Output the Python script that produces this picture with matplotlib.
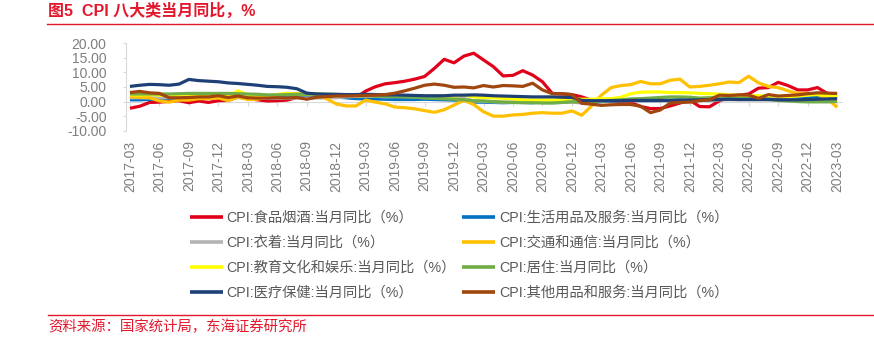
import matplotlib
matplotlib.use("Agg")
import matplotlib.pyplot as plt
import pandas as pd

plt.rcParams['font.family'] = ['Liberation Sans', 'Noto Sans CJK SC', 'DejaVu Sans']
plt.rcParams['axes.unicode_minus'] = False

# monthly YoY, 2017-03 .. 2023-03
months = pd.date_range('2017-03-01', periods=73, freq='MS').strftime('%Y-%m').tolist()

food = [-2.3, -1.6, -0.3, -0.2, 0.1, 0.3, -0.4, 0.2, -0.3, 0.3,
        0.4, 1.6, 1.0, 0.6, 0.2, 0.3, 0.5, 1.4, 2.4, 2.5, 1.9, 1.6,
        1.4, 1.3, 3.6, 5.1, 6.1, 6.5, 7.0, 7.7, 8.6, 11.4, 14.5, 13.3,
        15.6, 16.6, 14.3, 12.0, 8.8, 9.0, 10.6, 9.1, 6.8, 2.8, 2.6, 2.4,
        1.6, 0.5, 0.1, 0.2, 0.0, -0.3, -1.7, -2.4, -2.4, -1.5, -0.5, 0.5,
        -1.7, -1.8, 0.2, 1.5, 2.2, 2.6, 4.6, 4.8, 6.6, 5.5, 4.0, 4.0,
        4.8, 2.8, 2.5]
household = [0.6, 0.6, 0.7, 0.9, 1.1, 1.2, 1.2, 1.4, 1.5, 1.5,
             1.5, 1.5, 1.5, 1.5, 1.5, 1.5, 1.5, 1.6, 1.6, 1.5, 1.5, 1.5,
             1.3, 1.0, 0.9, 0.9, 0.8, 0.7, 0.7, 0.7, 0.8, 0.7, 0.6, 0.5,
             0.5, -0.2, -0.2, -0.3, -0.4, -0.3, -0.3, -0.4, -0.1, 0.0, 0.0, 0.1,
             -0.1, -0.3, 0.0, 0.2, 0.3, 0.4, 0.3, 0.3, 0.3, 0.4, 0.5, 0.5,
             1.0, 1.1, 1.0, 1.0, 1.2, 1.1, 1.1, 1.1, 1.2, 1.2, 1.2, 1.2,
             1.6, 1.6, 1.0]
clothing = [1.3, 1.3, 1.3, 1.3, 1.3, 1.3, 1.3, 1.3, 1.3, 1.3,
            1.1, 1.3, 1.1, 1.1, 1.1, 1.1, 1.1, 1.2, 1.2, 1.2, 1.3, 1.3,
            1.6, 1.8, 1.8, 1.8, 1.6, 1.7, 1.7, 1.6, 1.4, 1.4, 1.3, 1.1,
            1.1, 0.2, 0.1, -0.1, -0.2, -0.2, -0.3, -0.3, -0.3, -0.4, -0.3, -0.2,
            -0.5, -0.3, 0.1, 0.3, 0.3, 0.3, 0.3, 0.3, 0.2, 0.2, 0.3, 0.3,
            0.5, 0.3, 0.6, 0.6, 0.6, 0.6, 0.6, 0.6, 0.6, 0.6, 0.5, 0.5,
            0.7, 0.8, 0.9]
transport = [1.6, 1.5, 1.3, 0.2, -0.2, 0.5, 0.5, 1.0, 1.0, 1.3,
             0.3, 1.6, 0.7, 0.8, 1.6, 2.2, 2.8, 2.7, 2.6, 2.5, 1.0, -0.8,
             -1.5, -1.5, 0.5, -0.2, -0.8, -1.9, -2.1, -2.5, -3.1, -3.7, -2.8, -1.2,
             0.4, -1.0, -3.5, -5.0, -5.0, -4.6, -4.4, -4.0, -3.8, -4.0, -4.0, -3.2,
             -4.7, -1.5, 2.2, 4.8, 5.5, 5.8, 6.9, 6.1, 6.1, 7.3, 7.7, 5.0,
             5.2, 5.6, 6.1, 6.7, 6.5, 8.7, 6.4, 5.2, 4.8, 3.7, 2.8, 2.8,
             2.5, 1.1, -2.0]
education = [2.3, 2.3, 2.4, 2.2, 2.1, 2.1, 2.2, 2.1, 2.0, 2.0,
             1.8, 3.7, 2.2, 2.0, 1.9, 2.5, 2.7, 2.6, 2.5, 2.6, 2.2, 2.0,
             2.3, 2.0, 2.1, 2.2, 2.0, 1.9, 2.0, 2.0, 1.9, 1.9, 1.8, 1.9,
             2.2, 1.6, 1.4, 1.3, 1.1, 0.9, 0.6, 0.5, 0.5, 0.5, 0.7, 0.9,
             0.8, 0.8, 1.0, 1.0, 1.5, 2.7, 3.2, 3.3, 3.3, 3.1, 3.1, 3.0,
             2.8, 2.7, 2.6, 2.3, 2.2, 2.0, 2.0, 1.9, 1.8, 1.7, 1.9, 2.2,
             2.4, 2.0, 1.7]
housing = [2.6, 2.6, 2.6, 2.6, 2.6, 2.7, 2.8, 2.8, 2.8, 2.8,
           2.8, 2.7, 2.6, 2.5, 2.3, 2.3, 2.4, 2.5, 2.5, 2.6, 2.6, 2.4,
           2.2, 2.1, 2.0, 1.9, 1.8, 1.7, 1.6, 1.5, 1.2, 1.1, 0.9, 0.8,
           0.6, 0.3, 0.2, 0.0, -0.2, -0.3, -0.4, -0.4, -0.5, -0.5, -0.3, -0.1,
           -0.2, -0.2, 0.2, 0.4, 0.6, 0.9, 1.0, 1.2, 1.4, 1.6, 1.6, 1.5,
           1.2, 1.3, 1.2, 1.2, 1.2, 1.1, 0.9, 0.8, 0.4, 0.2, 0.0, -0.1,
           -0.1, -0.1, 0.0]
medical = [5.2, 5.6, 5.9, 5.8, 5.6, 6.0, 7.6, 7.2, 7.0, 6.8,
           6.4, 6.2, 5.9, 5.6, 5.2, 5.1, 4.9, 4.4, 2.9, 2.6, 2.5, 2.5,
           2.4, 2.4, 2.5, 2.4, 2.3, 2.3, 2.2, 2.1, 2.0, 2.0, 2.0, 2.2,
           2.2, 2.3, 2.2, 2.0, 1.9, 1.8, 1.7, 1.6, 1.6, 1.6, 1.5, 1.4,
           0.4, 0.3, 0.3, 0.3, 0.3, 0.4, 0.4, 0.4, 0.4, 0.4, 0.5, 0.5,
           0.6, 0.6, 0.7, 0.8, 0.7, 0.7, 0.7, 0.7, 0.6, 0.6, 0.6, 0.7,
           0.8, 0.9, 1.0]
other = [3.1, 3.5, 3.0, 2.8, 1.3, 1.3, 1.4, 1.6, 1.6, 2.0,
         1.4, 1.9, 1.3, 1.2, 1.2, 1.3, 1.2, 1.4, 0.8, 1.5, 1.7, 1.9,
         1.9, 2.0, 2.1, 2.2, 2.4, 2.9, 3.7, 4.6, 5.6, 6.0, 5.6, 4.9,
         5.0, 4.7, 5.5, 5.0, 5.5, 5.4, 5.2, 6.3, 4.0, 2.7, 2.7, 2.4,
         -0.6, -0.9, -1.3, -1.1, -1.0, -1.0, -1.6, -3.8, -2.9, -0.5, -0.3, -0.2,
         0.3, 0.6, 2.2, 2.1, 2.3, 2.2, 1.1, 2.4, 1.9, 2.1, 2.3, 2.7,
         3.0, 2.9, 2.8]

series = [
    ('CPI:食品烟酒:当月同比（%）', food, '#E0001B'),
    ('CPI:生活用品及服务:当月同比（%）', household, '#0070C0'),
    ('CPI:衣着:当月同比（%）', clothing, '#B4B4B4'),
    ('CPI:交通和通信:当月同比（%）', transport, '#FFC000'),
    ('CPI:教育文化和娱乐:当月同比（%）', education, '#FFFF00'),
    ('CPI:居住:当月同比（%）', housing, '#70AD47'),
    ('CPI:医疗保健:当月同比（%）', medical, '#1F3F77'),
    ('CPI:其他用品和服务:当月同比（%）', other, '#A0460E'),
]

red = '#E3182D'
gray = '#7F7F7F'
axis_gray = '#D9D9D9'

fig = plt.figure(figsize=(8.74, 3.44), dpi=100)
ax = fig.add_axes([126 / 874, 1 - 130.7 / 344, (842 - 126) / 874, 87.4 / 344])

x = list(range(len(months)))
handles = []
for name, vals, col in series:
    h, = ax.plot(x, vals, color=col, lw=2.3, label=name, zorder=3,
                 solid_joinstyle='round', solid_capstyle='butt')
    handles.append(h)

ax.set_ylim(-10, 20)
ax.set_yticks(range(-10, 21, 5))
ax.set_yticklabels([f'{v:.2f}' for v in range(-10, 21, 5)])
ax.set_xlim(-0.4, 72.5)
ax.set_xticks(x[::3])
ax.set_xticklabels(months[::3])

for s in ['top', 'right']:
    ax.spines[s].set_visible(False)
ax.spines['left'].set_color(axis_gray)
ax.spines['bottom'].set_color(axis_gray)
ax.spines['bottom'].set_position(('data', 0))
ax.tick_params(axis='y', colors=axis_gray, labelcolor=gray, labelsize=10,
               length=2.5, pad=11.5)
ax.tick_params(axis='x', colors=axis_gray, labelcolor=gray, labelsize=10,
               length=3, pad=25, labelrotation=90)

# legend: matplotlib fills column-wise, so reorder to keep reference rows
order = [0, 2, 4, 6, 1, 3, 5, 7]
leg = fig.legend([handles[i] for i in order], [series[i][0] for i in order],
                 ncol=2, loc='upper left', bbox_to_anchor=(190 / 874, 1 - 211 / 344),
                 frameon=False, fontsize=10.3, handlelength=2.3, handletextpad=0.25,
                 columnspacing=0.45, labelspacing=0.77, borderaxespad=0, borderpad=0)
for t in leg.get_texts():
    t.set_color('#595959')
for l in leg.get_lines():
    l.set_linewidth(2.6)

fig.text(48 / 874, 1 - 11 / 344, '图5  CPI 八大类当月同比，%', color=red,
         fontsize=11.5, fontweight='bold', va='center', ha='left')
fig.add_artist(plt.Line2D([47 / 874, 1], [1 - 23.5 / 344] * 2, color=red, lw=1.0))
fig.add_artist(plt.Line2D([48 / 874, 1], [1 - 314.5 / 344] * 2, color=red, lw=1.0))
fig.text(48 / 874, 1 - 327 / 344, '资料来源：国家统计局，东海证券研究所', color=red,
         fontsize=10.4, va='center', ha='left')

fig.savefig('out.png', dpi=100)
